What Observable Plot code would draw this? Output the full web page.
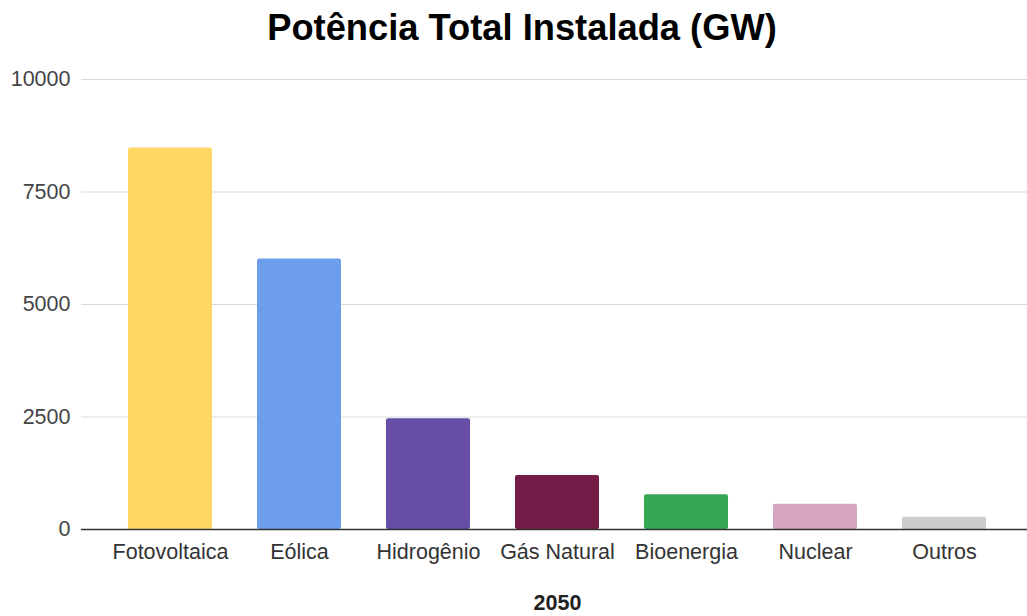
<!DOCTYPE html>
<html>
<head>
<meta charset="utf-8">
<script src="https://cdn.jsdelivr.net/npm/d3@7"></script>
<script src="https://cdn.jsdelivr.net/npm/@observablehq/plot@0.6"></script>
<style>
  html, body { margin: 0; padding: 0; background: #fff; overflow: hidden; }
  #title {
    box-sizing: border-box; width: 1027px; height: 56px; line-height: 56px;
    padding-left: 17px; text-align: center;
    font-family: "Liberation Sans", Arial, sans-serif; font-weight: bold;
    font-size: 36.3px; color: #000; white-space: nowrap;
  }
  #chart svg { display: block; }
</style>
</head>
<body>
<div id="title">Potência Total Instalada (GW)</div>
<div id="chart"></div>
<script>
const categories = ["Fotovoltaica", "Eólica", "Hidrogênio", "Gás Natural", "Bioenergia", "Nuclear", "Outros"];
const values = [8480, 6010, 2460, 1200, 770, 560, 275];
const colors = ["#fdd663", "#6d9eeb", "#674ea7", "#741b47", "#34a853", "#d5a6bd", "#cccccc"];
const yTicks = [0, 2500, 5000, 7500, 10000];
const xTitle = "2050";

const data = categories.map((c, i) => ({cat: c, value: values[i], color: colors[i]}));

const chart = Plot.plot({
  width: 1027,
  height: 560,
  marginTop: 23,
  marginBottom: 87,
  marginLeft: 81,
  marginRight: 0,
  style: {fontFamily: "'Liberation Sans', Arial, sans-serif", fontSize: "21.5px", color: "#444", background: "#fff", overflow: "visible"},
  x: {domain: categories, range: [80, 1033], paddingInner: 0.35, paddingOuter: 0.36, label: null},
  y: {domain: [0, 10000], label: null},
  marks: [
    Plot.gridY(yTicks, {stroke: "#d9d9d9", strokeOpacity: 1, strokeWidth: 1}),
    Plot.axisY({ticks: yTicks, tickSize: 0, tickPadding: 11, label: null, tickFormat: d => String(d), fill: "#444"}),
    Plot.axisX({tickSize: 0, tickPadding: 14, label: null, fill: "#333"}),
    Plot.barY(data, {x: "cat", y: "value", fill: "color", rx: 2}),
    Plot.ruleY([0], {stroke: "#333", strokeWidth: 1.3}),
    Plot.text([xTitle], {text: d => d, frameAnchor: "bottom", dy: 80, dx: 3, fontWeight: "bold", fontSize: 21.5, fill: "#222"})
  ]
});
document.getElementById("chart").appendChild(chart);
</script>
</body>
</html>
